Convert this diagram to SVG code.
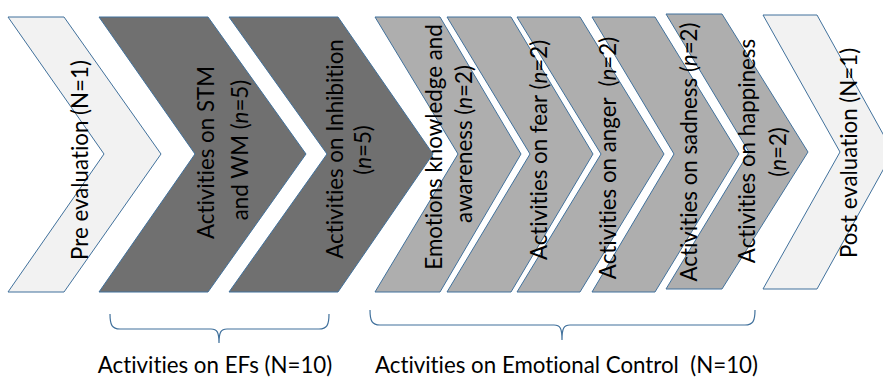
<svg xmlns="http://www.w3.org/2000/svg" width="883" height="384" viewBox="0 0 883 384">
<style>
.sh{stroke:#41719c;stroke-width:1;stroke-linejoin:miter}
.pre{fill:#f2f2f2}
.dk{fill:#707070}
.lt{fill:#aeaeae}
.t{font-family:Lato,"Liberation Sans",sans-serif;font-size:22.3px;fill:#000;text-anchor:middle;white-space:pre;font-variant-ligatures:none}
.br{fill:none;stroke:#41719c;stroke-width:1.2}
</style>
<rect width="883" height="384" fill="#fff"/>
<g id="post">
<polygon class="sh pre" points="763,15 817,15 893,152 817,289 763,289 840,152"/>
<text class="t" transform="translate(857,153) rotate(-90)">Post evaluation (N=1)</text>
</g>
<g id="happiness">
<polygon class="sh lt" points="666,14 722,14 808,152 722,289 666,289 749,152"/>
<text class="t" transform="translate(755,151) rotate(-90)">Activities on happiness</text>
<text class="t" transform="translate(786,152) rotate(-90)">(<tspan font-style="italic">n</tspan>=2)</text>
</g>
<g id="sadness">
<polygon class="sh lt" points="592,17 655,17 739,154 655,292 592,292 674,154"/>
<text class="t" transform="translate(697,152) rotate(-90)">Activities on sadness (<tspan font-style="italic">n</tspan>=2)</text>
</g>
<g id="anger">
<polygon class="sh lt" points="517,17 580,17 664,154 580,292 517,292 601,154"/>
<text class="t" transform="translate(615.5,158) rotate(-90)">Activities on anger  (<tspan font-style="italic">n</tspan>=2)</text>
</g>
<g id="fear">
<polygon class="sh lt" points="447,17 511,17 593,154 511,292 447,292 530,154"/>
<text class="t" transform="translate(547,150) rotate(-90)">Activities on fear (<tspan font-style="italic">n</tspan>=2)</text>
</g>
<g id="emotions">
<polygon class="sh lt" points="375,17 440,17 521,154 440,292 375,292 458,154"/>
<text class="t" transform="translate(442,147) rotate(-90)">Emotions knowledge and</text>
<text class="t" transform="translate(472,144) rotate(-90)">awareness (<tspan font-style="italic">n</tspan>=2)</text>
</g>
<g id="inhibition">
<polygon class="sh dk" points="229,17 338,17 433,154 338,292 229,292 327,154"/>
<text class="t" transform="translate(343,149) rotate(-90)">Activities on Inhibition</text>
<text class="t" transform="translate(371,150) rotate(-90)">(<tspan font-style="italic">n</tspan>=5)</text>
</g>
<g id="stm">
<polygon class="sh dk" points="99,17 208,17 306,154 208,292 99,292 195,154"/>
<text class="t" transform="translate(213.5,152.6) rotate(-90)">Activities on STM</text>
<text class="t" transform="translate(248,150) rotate(-90)">and WM (<tspan font-style="italic">n</tspan>=5)</text>
</g>
<g id="pre">
<polygon class="sh pre" points="8,17 64,17 161,154 64,292 8,292 104,154"/>
<text class="t" transform="translate(87.5,160) rotate(-90)">Pre evaluation (N=1)</text>
</g>
<g id="connectors">
<path class="br" d="M110,314 C110,325 112,329 120,329 L211,329 C217,329 219,332 219,343 C219,332 221,329 227,329 L319,329 C327,329 329,325 329,314"/>
<path class="br" d="M370,310 C370,321 372,325 380,325 L554,325 C560,325 562,328 562,340 C562,328 564,325 570,325 L745,325 C753,325 755,321 755,310"/>
</g>
<g id="labels">
<text class="t" x="215" y="372.5">Activities on EFs (N=10)</text>
<text class="t" x="566.5" y="372.5">Activities on Emotional Control  (N=10)</text>
</g>
</svg>
